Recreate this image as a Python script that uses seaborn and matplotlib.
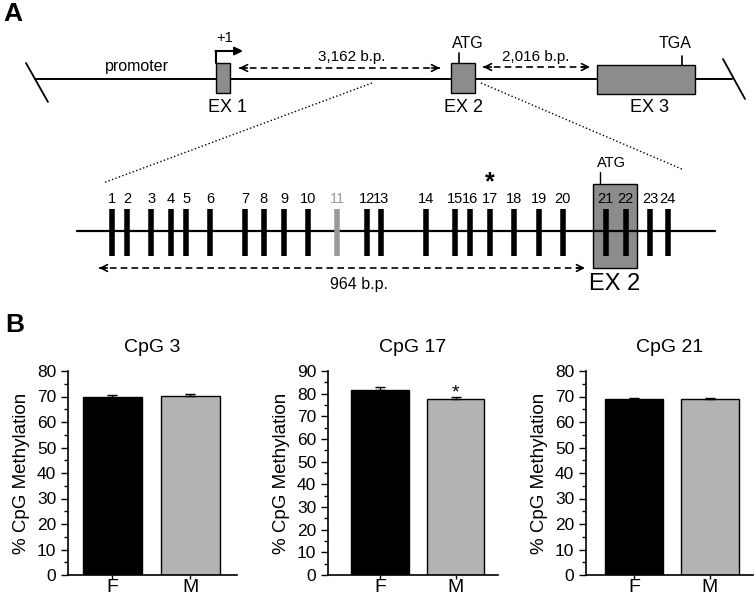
import matplotlib
matplotlib.use("Agg")
import matplotlib.pyplot as plt
import seaborn as sns
import pandas as pd
from matplotlib.patches import Rectangle
from matplotlib.ticker import MultipleLocator

sns.set_style("ticks", {"axes.edgecolor": "black", "xtick.color": "black",
                        "ytick.color": "black", "text.color": "black",
                        "axes.labelcolor": "black"})
plt.rcParams["font.family"] = ["Liberation Sans", "DejaVu Sans"]

# CpG sites: bp from start of the 964 bp stretch
cpg_ids = list(range(1, 25))
cpg_bp = [26, 56, 104, 143, 173, 220, 290, 327, 367, 414, 472, 531,
          559, 648, 706, 736, 775, 823, 873, 920, 1005, 1045, 1093, 1128]
ex2_start, ex2_end = 979, 1067
region_bp = 964
grey_site = 11
signif_site = 17

# methylation data
sexes = ["F", "M"]
panels = ["CpG 3", "CpG 17", "CpG 21"]
meth_mean = {"CpG 3": [69.8, 70.1], "CpG 17": [81.8, 77.5], "CpG 21": [69.0, 68.9]}
meth_sem = {"CpG 3": [0.6, 0.8], "CpG 17": [1.2, 1.0], "CpG 21": [0.4, 0.4]}
y_top = {"CpG 3": 80, "CpG 17": 90, "CpG 21": 80}

W, H = 754, 598
fig = plt.figure(figsize=(W / 100, H / 100), dpi=100)

box_grey = "#8c8c8c"


def dashed_arrow(ax, x0, x1, y, lw=1.2):
    ax.plot([x0, x1], [y, y], color="black", lw=lw, dashes=(4, 2.5))
    for x, off in [(x0, 6), (x1, -6)]:
        ax.annotate("", xy=(x, y), xytext=(off, 0), textcoords="offset points",
                    arrowprops=dict(arrowstyle="->", lw=lw, color="black",
                                    mutation_scale=12, shrinkA=0, shrinkB=0))


# ---- panel A, gene overview (schematic, pixel space) ----
ax = fig.add_axes([0, 0, 1, 1])
ax.set_xlim(0, W)
ax.set_ylim(H, 0)
ax.axis("off")

ax.text(13, 14, "A", fontsize=19, fontweight="bold", ha="center", va="center")
ax.text(15, 325, "B", fontsize=19, fontweight="bold", ha="center", va="center")

ax.plot([35, 732], [79, 79], color="black", lw=1.4)
ax.plot([26, 48], [63, 102], color="black", lw=1.3)
ax.plot([723, 745], [59, 99], color="black", lw=1.3)

for x0, y0, w, h in [(216, 63, 14, 30), (451, 63, 24, 30), (597, 65, 98, 29)]:
    ax.add_patch(Rectangle((x0, y0), w, h, fc=box_grey, ec="black", lw=1, zorder=3))

ax.plot([216, 216], [63, 51], color="black", lw=1.5)
ax.annotate("", xy=(243, 51), xytext=(215.5, 51),
            arrowprops=dict(arrowstyle="-|>", lw=1.5, color="black",
                            mutation_scale=12, shrinkA=0, shrinkB=0))
ax.text(225, 38, "+1", fontsize=10.5, ha="center", va="center")
ax.text(137, 67, "promoter", fontsize=11.5, ha="center", va="center")

dashed_arrow(ax, 239, 440, 68)
ax.text(352, 57, "3,162 b.p.", fontsize=11, ha="center", va="center")
dashed_arrow(ax, 483, 590, 67)
ax.text(536, 57, "2,016 b.p.", fontsize=11, ha="center", va="center")

ax.plot([459, 459], [63, 53], color="black", lw=1.2)
ax.text(468, 43, "ATG", fontsize=11.5, ha="center", va="center")
ax.plot([682, 682], [65, 56], color="black", lw=1.2)
ax.text(675, 44, "TGA", fontsize=11.5, ha="center", va="center")

for x, lab in [(228, "EX 1"), (463, "EX 2"), (650, "EX 3")]:
    ax.text(x, 107, lab, fontsize=13, ha="center", va="center")

ax.plot([372, 103], [83, 183], color="black", lw=1, ls=":")
ax.plot([481, 684], [83, 170], color="black", lw=1, ls=":")

# ---- panel A, CpG map (x in bp) ----
bpx = fig.add_axes([0, 0, 1, 1])
px_per_bp = 486 / region_bp
bpx.set_xlim(-99 / px_per_bp, (W - 99) / px_per_bp)
bpx.set_ylim(H, 0)
bpx.axis("off")

bpx.plot([-44, 1221], [231, 231], color="black", lw=1.6, zorder=2)
bpx.add_patch(Rectangle((ex2_start, 184), ex2_end - ex2_start, 84,
                        fc=box_grey, ec="black", lw=1, zorder=1))
site_cols = ["#9a9a9a" if i == grey_site else "black" for i in cpg_ids]
bpx.vlines(cpg_bp, 209, 256, colors=site_cols, lw=4, zorder=3)
for i, b, c in zip(cpg_ids, cpg_bp, site_cols):
    bpx.text(b, 199, str(i), fontsize=10.5, ha="center", va="center", color=c)
bpx.text(cpg_bp[signif_site - 1], 189, "*", fontsize=18, fontweight="bold",
         ha="center", va="baseline")

bpx.plot([994, 994], [184, 172], color="black", lw=1)
bpx.text(1016, 163, "ATG", fontsize=10.5, ha="center", va="center")

dashed_arrow(bpx, 0, region_bp, 268)
bpx.text(516, 285, "964 b.p.", fontsize=11.5, ha="center", va="center")
bpx.text((ex2_start + ex2_end) / 2, 284, "EX 2", fontsize=17,
         ha="center", va="center")

# ---- panel B, bar charts ----
boxes = [(68, 575, 237, 371), (328, 575, 498, 371), (586, 575, 753, 371)]
xlims = [(-0.57, 1.6), (-0.69, 1.56), (-0.63, 1.57)]

for name, (l, b, r, t), xl in zip(panels, boxes, xlims):
    bax = fig.add_axes([l / W, (H - b) / H, (r - l) / W, (b - t) / H])
    df = pd.DataFrame({"sex": sexes, "pct": meth_mean[name]})
    sns.barplot(data=df, x="sex", y="pct", hue="sex",
                palette=["black", "#b3b3b3"], width=0.76, edgecolor="black",
                linewidth=1, errorbar=None, legend=False, ax=bax)
    bax.errorbar([0, 1], meth_mean[name], yerr=[[0, 0], meth_sem[name]],
                 fmt="none", ecolor="black", elinewidth=1, capsize=3.5,
                 capthick=1)
    bax.set_ylim(0, y_top[name])
    bax.set_xlim(*xl)
    bax.yaxis.set_major_locator(MultipleLocator(10))
    bax.yaxis.set_minor_locator(MultipleLocator(5))
    bax.tick_params(axis="y", which="major", length=5, width=1, labelsize=12.5)
    bax.tick_params(axis="y", which="minor", length=3, width=1)
    bax.tick_params(axis="x", length=3, width=1, labelsize=14, pad=0)
    for s in ["left", "bottom"]:
        bax.spines[s].set_linewidth(1.2)
    sns.despine(ax=bax)
    bax.set_xlabel("")
    bax.set_ylabel("% CpG Methylation", fontsize=13.5, labelpad=5)
    bax.set_title(name, fontsize=14, pad=14)
    if name == "CpG 17":
        bax.text(1, 80.5, "*", fontsize=14, ha="center", va="center")

fig.savefig("out.png", dpi=100)
